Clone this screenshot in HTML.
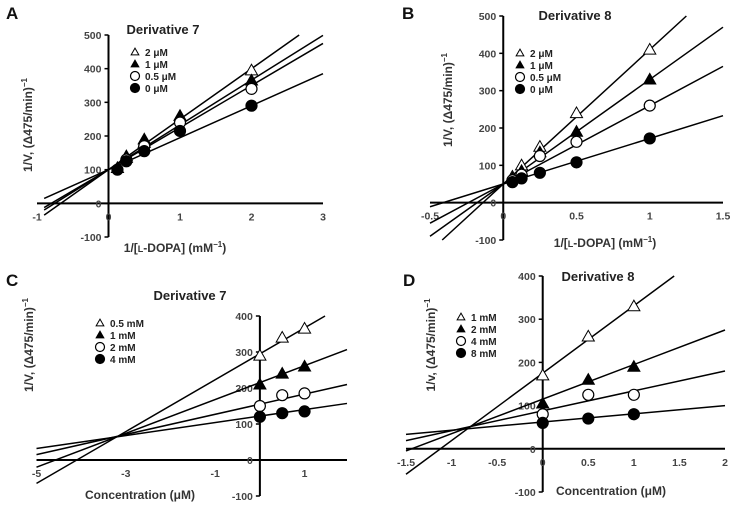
<!DOCTYPE html>
<html><head><meta charset="utf-8">
<style>
html,body{margin:0;padding:0;background:#fff;}
svg{display:block;font-family:"Liberation Sans",sans-serif;}
.tick{font-size:10.5px;font-weight:bold;fill:#444;}
.leg{font-size:10px;font-weight:bold;fill:#222;}
.ttl{font-size:13px;font-weight:bold;fill:#222;}
.ax{font-size:12px;font-weight:bold;fill:#333;}
.let{font-size:17px;font-weight:bold;fill:#111;}
</style></head><body>
<svg id="fig" width="736" height="514" viewBox="0 0 736 514"></svg>
<script>
// Panel A data
const aX = [0.125, 0.25, 0.5, 1, 2];
const aLabels = ["2 μM","1 μM","0.5 μM","0 μM"];
const aY2 = [null, 135, 180, 250, 395];
const aY1 = [105, 140, 190, 260, 365];
const aY05 = [null, 130, 170, 240, 340];
const aY0 = [100, 125, 155, 215, 290];
const aSlope = [150, 133, 125, 95];
const aInt = [100, 100, 100, 100];
const aXTicks = [-1, 0, 1, 2, 3];
const aYTicks = [-100, 0, 100, 200, 300, 400, 500];
// Panel B data
const bX = [0.0625, 0.125, 0.25, 0.5, 1];
const bLabels = ["2 μM","1 μM","0.5 μM","0 μM"];
const bY2 = [70, 100, 150, 240, 410];
const bY1 = [65, 85, 135, 190, 330];
const bY05 = [60, 75, 125, 163, 260];
const bY0 = [55, 65, 80, 108, 172];
const bSlope = [360, 280, 210, 122];
const bInt = [50, 50, 50, 50];
const bXTicks = [-0.5, 0, 0.5, 1, 1.5];
const bXTickLabels = ["-0.5","0","0.5","1","1.5"];
const bYTicks = [-100, 0, 100, 200, 300, 400, 500];
// Panel C data
const cX = [0, 0.5, 1];
const cLabels = ["0.5 mM","1 mM","2 mM","4 mM"];
const cY05 = [290, 340, 365];
const cY1 = [210, 240, 260];
const cY2 = [150, 180, 185];
const cY4 = [120, 130, 135];
const cSlope = [72, 47, 28, 18];
const cInt = [295, 215, 155, 122];
const cXTicks = [-5, -3, -1, 1];
const cYTicks = [-100, 0, 100, 200, 300, 400];
// Panel D data
const dX = [0, 0.5, 1];
const dLabels = ["1 mM","2 mM","4 mM","8 mM"];
const dY1 = [170, 260, 330];
const dY2 = [105, 160, 190];
const dY4 = [80, 125, 125];
const dY8 = [60, 70, 80];
const dSlope = [156, 80, 46, 19];
const dInt = [175, 115, 88, 62];
const dXTicks = [-1.5, -1, -0.5, 0, 0.5, 1, 1.5, 2];
const dYTicks = [-100, 0, 100, 200, 300, 400];

const NS = "http://www.w3.org/2000/svg";
const svg = document.getElementById("fig");
function mk(tag, attrs, parent, text){
  const e = document.createElementNS(NS, tag);
  for (const k in attrs) e.setAttribute(k, attrs[k]);
  if (text !== undefined) e.textContent = text;
  (parent || svg).appendChild(e);
  return e;
}
function marker(g, kind, px, py, r){
  let el;
  if (kind === 0 || kind === 1){
    const h = r*1.1;
    el = mk("polygon", {points:`${px},${py-h} ${px-h},${py+h*0.75} ${px+h},${py+h*0.75}`,
      fill: kind===0?"#fff":"#000", stroke:"#000", "stroke-width":1}, g);
  } else {
    el = mk("circle", {cx:px, cy:py, r:r, fill: kind===2?"#fff":"#000", stroke:"#000", "stroke-width":1.2}, g);
  }
  return el;
}
function panel(cfg){
  const g = mk("g", {});
  
  
  const sx = v => cfg.x0 + (v - cfg.xmin) * (cfg.x1 - cfg.x0) / (cfg.xmax - cfg.xmin);
  const sy = v => cfg.y0 - (v - cfg.ymin) * (cfg.y0 - cfg.y1) / (cfg.ymax - cfg.ymin);
  const xa = mk("line", {x1:sx(cfg.xmin), x2:sx(cfg.xmax), y1:sy(0), y2:sy(0), stroke:"#000", "stroke-width":2}, g);
  
  
  const ya = mk("line", {x1:sx(0), x2:sx(0), y1:sy(cfg.ymin), y2:sy(cfg.ymax), stroke:"#000", "stroke-width":2}, g);
  
  
  cfg.yticks.forEach(v => {
    mk("line", {x1:sx(0)-4, x2:sx(0), y1:sy(v), y2:sy(v), stroke:"#000", "stroke-width":1.5}, g);
    const t = mk("text", {x:sx(0)-7, y:sy(v)+4, "text-anchor":"end", class:"tick"}, g, String(v));
    
    
  });
  cfg.xticks.forEach((v,i) => {
    const t = mk("text", {x:sx(v), y:sy(0)+17, "text-anchor":"middle", class:"tick"}, g, cfg.xtl ? cfg.xtl[i] : String(v));
    
    
  });
  cfg.slopes.forEach((m,i) => {
    const b = cfg.ints[i];
    let xa0 = cfg.lxmin, xa1 = cfg.xmax;
    const yAt = x => m*x + b;
    if (yAt(xa1) > cfg.ymax) xa1 = (cfg.ymax - b)/m;
    if (yAt(xa0) < cfg.ymin) xa0 = (cfg.ymin - b)/m;
    const l = mk("line", {x1:sx(xa0), y1:sy(yAt(xa0)), x2:sx(xa1), y2:sy(yAt(xa1)), stroke:"#000", "stroke-width":1.5}, g);
    
    
  });
  cfg.series.forEach((ys,k) => {
    ys.forEach((v,j) => {
      if (v === null) return;
      const p = marker(g, cfg.kinds[k], sx(cfg.xs[j]), sy(v), 5.5);
      
      
    });
  });
  cfg.labels.forEach((lab,k) => {
    const yy = cfg.legY + k*cfg.legDy;
    const m = marker(g, k, cfg.legX, yy, k<2?3.5:4.5);
    
    
    const t = mk("text", {x:cfg.legX+10, y:yy+4, class:"leg"}, g, lab);
    
    
  });
  const tt = mk("text", {x:cfg.titleX, y:cfg.titleY, "text-anchor":"middle", class:"ttl"}, g, cfg.title);
  
  
  const le = mk("text", {x:cfg.letX, y:cfg.letY, class:"let"}, g, cfg.letter);
  
  
  const xt = mk("text", {x:cfg.xtX, y:cfg.xtY, "text-anchor":"middle", class:"ax"}, g);
  
  
  xt.innerHTML = cfg.xtitle;
  const yt = mk("text", {x:0, y:0, "text-anchor":"middle", class:"ax", transform:`translate(${cfg.ytX},${cfg.ytY}) rotate(-90)`}, g);
  
  
  yt.innerHTML = cfg.ytitle;
}
const lineweaverX = '1/[<tspan font-size="9">L</tspan>-DOPA] (mM<tspan dy="-5" font-size="8">−1</tspan><tspan dy="5">)</tspan>';
const yT = '1/V, (Δ475/min)<tspan dy="-5" font-size="8">−1</tspan>';
panel({name:"panel-a", xmin:-1, xmax:3, ymin:-100, ymax:500, x0:37, x1:323, y0:237, y1:35, lxmin:-0.9,
  xticks:aXTicks, yticks:aYTicks, xs:aX, series:[aY2,aY1,aY05,aY0], kinds:[0,1,2,3], slopes:aSlope, ints:aInt,
  labels:aLabels, legX:135, legY:52, legDy:12, title:"Derivative 7", titleX:163, titleY:34, letter:"A", letX:6, letY:19,
  xtitle:lineweaverX, xtX:175, xtY:252, ytitle:yT, ytX:32, ytY:125});
panel({name:"panel-b", xmin:-0.5, xmax:1.5, ymin:-100, ymax:500, x0:430, x1:723, y0:240, y1:16, lxmin:-0.5,
  xticks:bXTicks, xtl:bXTickLabels, yticks:bYTicks, xs:bX, series:[bY2,bY1,bY05,bY0], kinds:[0,1,2,3], slopes:bSlope, ints:bInt,
  labels:bLabels, legX:520, legY:53, legDy:12, title:"Derivative 8", titleX:575, titleY:20, letter:"B", letX:402, letY:19,
  xtitle:lineweaverX, xtX:605, xtY:247, ytitle:yT, ytX:452, ytY:100});
panel({name:"panel-c", xmin:-5, xmax:1.95, ymin:-100, ymax:400, x0:36.5, x1:347, y0:496, y1:316, lxmin:-5,
  xticks:cXTicks, yticks:cYTicks, xs:cX, series:[cY05,cY1,cY2,cY4], kinds:[0,1,2,3], slopes:cSlope, ints:cInt,
  labels:cLabels, legX:100, legY:323, legDy:12, title:"Derivative 7", titleX:190, titleY:300, letter:"C", letX:6, letY:286,
  xtitle:'Concentration (μM)', xtX:140, xtY:499, ytitle:yT, ytX:33, ytY:345});
panel({name:"panel-d", xmin:-1.5, xmax:2, ymin:-100, ymax:400, x0:406, x1:725, y0:492, y1:276, lxmin:-1.5,
  xticks:dXTicks, yticks:dYTicks, xs:dX, series:[dY1,dY2,dY4,dY8], kinds:[0,1,2,3], slopes:dSlope, ints:dInt,
  labels:dLabels, legX:461, legY:317, legDy:12, title:"Derivative 8", titleX:598, titleY:281, letter:"D", letX:403, letY:286,
  xtitle:'Concentration (μM)', xtX:611, xtY:495, ytitle:'1/v, (Δ475/min)<tspan dy="-5" font-size="8">−1</tspan>', ytX:435, ytY:345});
</script>
</body></html>
